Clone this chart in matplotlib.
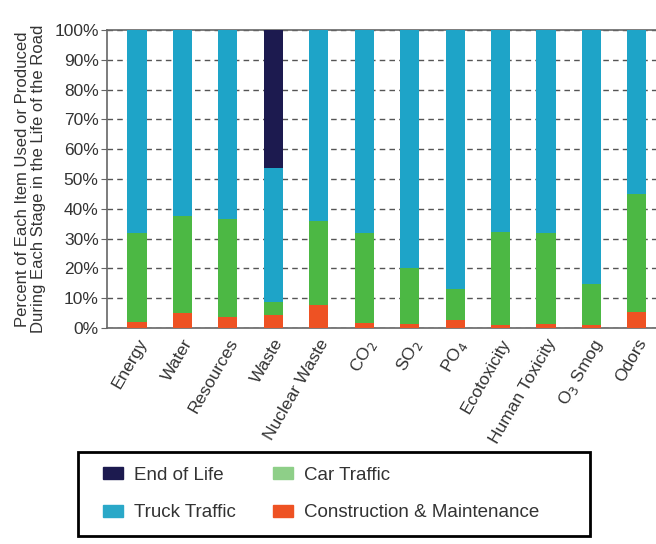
import matplotlib
matplotlib.use("Agg")
import matplotlib.pyplot as plt
from matplotlib.patches import Patch, Rectangle
import numpy as np

plt.rcParams['font.family'] = ['Liberation Sans', 'DejaVu Sans']

categories = ["Energy", "Water", "Resources", "Waste", "Nuclear Waste", "CO$_2$",
              "SO$_2$", "PO$_4$", "Ecotoxicity", "Human Toxicity", "O$_3$ Smog", "Odors"]
construction = [2.0, 5.0, 3.7, 4.4, 7.7, 1.7, 1.3, 2.7, 1.0, 1.3, 1.0, 5.4]
car_traffic = [29.9, 32.6, 32.9, 4.3, 28.2, 30.2, 18.8, 10.4, 31.2, 30.6, 13.8, 39.6]
end_of_life = [0, 0, 0, 46.3, 0, 0, 0, 0, 0, 0, 0, 0]
truck_traffic = [100 - a - b - c for a, b, c in zip(construction, car_traffic, end_of_life)]

c_con = "#ee5223"
c_car = "#4cb844"
c_truck = "#1ea4c8"
c_eol = "#1c1a4f"

fig = plt.figure(figsize=(6.56, 5.44), dpi=100)
ax = fig.add_axes([107/656, 1-328/544, (656-107)/656, (328-30)/544])

x = np.arange(len(categories))
w = 0.42
b1 = np.array(construction)
b2 = b1 + np.array(car_traffic)
b3 = b2 + np.array(truck_traffic)
ax.bar(x, construction, w, color=c_con, zorder=3)
ax.bar(x, car_traffic, w, bottom=b1, color=c_car, zorder=3)
ax.bar(x, truck_traffic, w, bottom=b2, color=c_truck, zorder=3)
ax.bar(x, end_of_life, w, bottom=b3, color=c_eol, zorder=3)

ax.set_xlim(-0.66, 11.42)
ax.set_ylim(0, 100)
ax.set_yticks(np.arange(0, 101, 10))
ax.set_yticklabels([f"{v}%" for v in range(0, 101, 10)], fontsize=12.5, color="#333333")
ax.yaxis.grid(True, linestyle=(0, (4, 3)), color="#555555", linewidth=1.0, zorder=0)
ax.set_xticks(x)
ax.set_xticklabels(categories, rotation=60, ha="right", rotation_mode="anchor",
                   fontsize=12.5, color="#333333")
ax.tick_params(axis="x", length=0, pad=6)
ax.tick_params(axis="y", length=4, color="#666666", pad=2)
for s in ["left", "bottom", "top"]:
    ax.spines[s].set_color("#666666")
    ax.spines[s].set_linewidth(1.2)
ax.spines["right"].set_visible(False)

ax.set_ylabel("Percent of Each Item Used or Produced\nDuring Each Stage in the Life of the Road",
              fontsize=12, color="#333333", labelpad=6, linespacing=1.1)

# legend box
rect = Rectangle((78/656, 1-536/544), 512/656, 84/544, transform=fig.transFigure,
                 fill=False, edgecolor="black", linewidth=2)
fig.add_artist(rect)
handles = [Patch(color=c_eol, label="End of Life"),
           Patch(color="#2aa8c8", label="Truck Traffic"),
           Patch(color="#8ecf88", label="Car Traffic"),
           Patch(color=c_con, label="Construction & Maintenance")]
leg = fig.legend(handles=handles, ncol=2, loc="center left",
                 bbox_to_anchor=(103/656, 1-494/544), frameon=False,
                 borderpad=0, borderaxespad=0,
                 fontsize=13.5, handlelength=1.05, handleheight=0.6,
                 columnspacing=2.0, labelspacing=1.1, handletextpad=0.6)
for t in leg.get_texts():
    t.set_color("#333333")

fig.savefig("out.png", dpi=100)
